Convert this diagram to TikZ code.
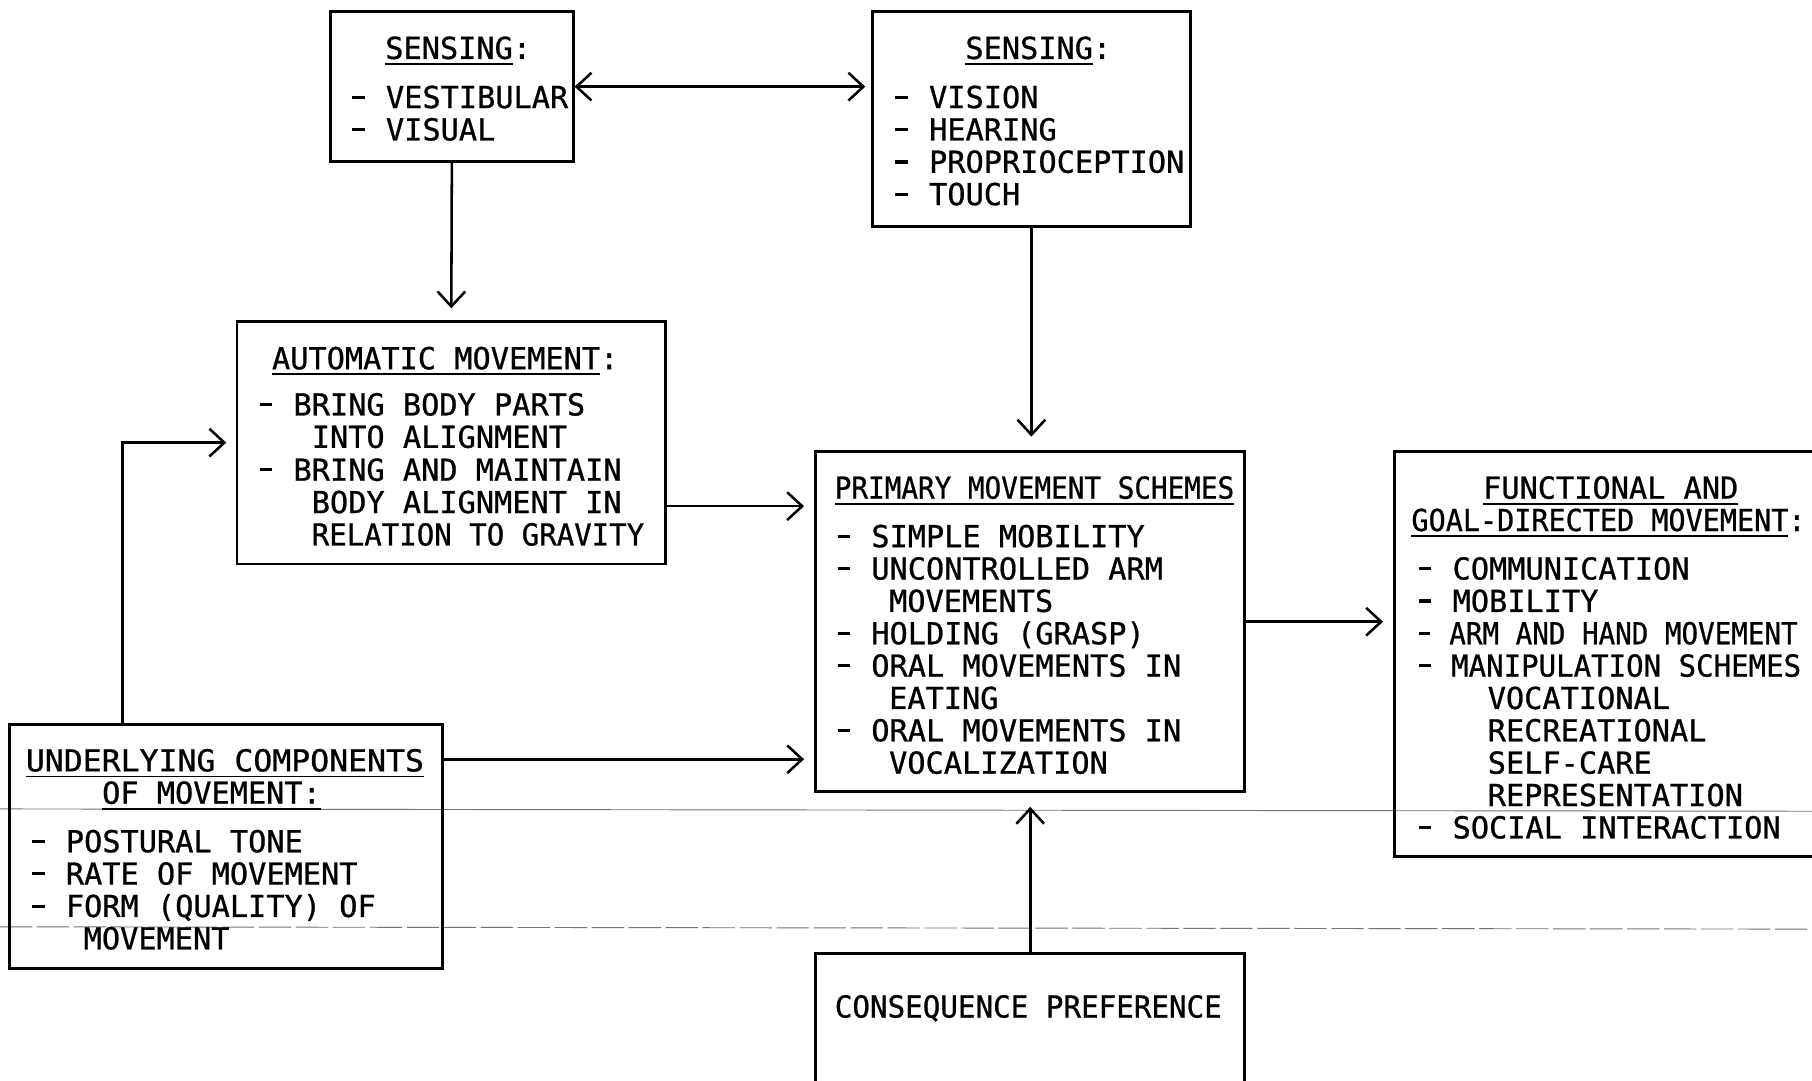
\documentclass[tikz,border=0pt]{standalone}
\usepackage{fontspec}
\usepackage{graphicx}
\newfontfamily\tw[FakeBold=0.8]{DejaVu Sans Mono}
\usetikzlibrary{arrows.meta}

% underline a word a little below the baseline
\newcommand\ulx[1]{\setbox0\hbox{#1}\rlap{\rule[-2.6pt]{\wd0}{0.8pt}}\box0}
% list dash occupying two character cells
\newcommand\dsh{\makebox[15.8pt][l]{\hspace{1.2pt}\rule[4pt]{5.4pt}{1.4pt}}}
% one text line, left end of its baseline at (x,y)
\newcommand\lineat[4]{\node[txt] (#1) at (#2,#3) {#4};}

\begin{document}
\begin{tikzpicture}[x=0.5pt,y=-0.5pt,
  box/.style={draw, line width=1.2pt, inner sep=0pt, rectangle},
  txt/.style={anchor=base west, inner sep=0pt, font=\tw\fontsize{13.1pt}{14pt}\selectfont},
  tip/.tip={Straight Barb[length=6.5pt,width=12pt]},
  arr/.style={line width=1.1pt, -tip},
  darr/.style={line width=1.1pt, tip-tip},
  scanline/.style={line width=0.4pt, black!55}]
\useasboundingbox (0,0) rectangle (1568,935);
\clip (0,0) rectangle (1568,935);
\fill[white] (0,0) rectangle (1568,935);

% faint horizontal lines across the sheet
\draw[scanline] (0,700) -- (1568,702);
\draw[scanline, dash pattern=on 14pt off 2pt] (0,802) -- (1568,804);

% boxes
\node[box, minimum width=105pt, minimum height=65pt] (sens1) at (391,75) {};
\node[box, minimum width=137.5pt, minimum height=93pt] (sens2) at (892.5,103) {};
\node[box, minimum width=185.5pt, minimum height=105pt] (auto) at (390.5,383) {};
\node[box, minimum width=185.5pt, minimum height=147pt] (prim) at (891.5,538) {};
\node[box, minimum width=187.5pt, minimum height=105.5pt] (und) at (195.5,732.5) {};
\node[box, minimum width=196.5pt, minimum height=175pt] (func) at (1403.5,566) {};
\node[box, minimum width=185.5pt, minimum height=67.5pt] (cons) at (891.5,892.5) {};

% connectors
\draw[darr, shorten >=2.5pt] (sens1.east) -- (sens2.west |- sens1.east);
\draw[arr, shorten >=5pt] (sens1.south) -- (auto.north);
\draw[arr, shorten >=6pt] (sens2.south) -- (sens2.south |- prim.north);
\draw[arr, shorten >=4.5pt] ([yshift=-27.5pt]auto.east) coordinate (a2p) -- (prim.west |- a2p);
\draw[arr, shorten >=4.5pt] ([yshift=37.75pt]und.east) coordinate (u2p) -- (prim.west |- u2p);
\draw[arr, shorten >=4pt] ([xshift=-44.75pt]und.north) |- (auto.west);
\draw[arr, shorten >=4.5pt] (prim.east) -- (func.west |- prim.east);
\draw[arr, shorten >=6pt] (cons.north) -- (prim.south);

% SENSING (vestibular / visual)
\lineat{s1t}{333}{51}{\ulx{SENSING}:}
\lineat{s1a}{302}{93.5}{\dsh VESTIBULAR}
\lineat{s1b}{302}{121.5}{\dsh VISUAL}

% SENSING (senses)
\lineat{s2t}{835}{51}{\ulx{SENSING}:}
\lineat{s2a}{772}{93.5}{\dsh VISION}
\lineat{s2b}{772}{121.5}{\dsh HEARING}
\lineat{s2c}{772}{149.5}{\dsh PROPRIOCEPTION}
\lineat{s2d}{772}{177.5}{\dsh TOUCH}

% AUTOMATIC MOVEMENT
\lineat{a0}{235}{319.5}{\ulx{AUTOMATIC MOVEMENT}:}
\lineat{a1}{222}{359.5}{\dsh BRING BODY PARTS}
\lineat{a2}{269.4}{387.5}{INTO ALIGNMENT}
\lineat{a3}{222}{416}{\dsh BRING AND MAINTAIN}
\lineat{a4}{269.4}{444}{BODY ALIGNMENT IN}
\lineat{a5}{269.4}{472}{\scalebox{0.96}[1]{RELATION TO GRAVITY}}

% PRIMARY MOVEMENT SCHEMES
\lineat{p0}{722}{431.5}{\scalebox{0.913}[1]{\ulx{PRIMARY MOVEMENT SCHEMES}}}
\lineat{p1}{722}{473.5}{\dsh SIMPLE MOBILITY}
\lineat{p2}{722}{501.5}{\dsh UNCONTROLLED ARM}
\lineat{p3}{769}{529.5}{MOVEMENTS}
\lineat{p4}{722}{557.5}{\dsh HOLDING (GRASP)}
\lineat{p5}{722}{585.5}{\dsh ORAL MOVEMENTS IN}
\lineat{p6}{769}{613.5}{EATING}
\lineat{p7}{722}{641.5}{\dsh ORAL MOVEMENTS IN}
\lineat{p8}{769}{669.5}{VOCALIZATION}

% UNDERLYING COMPONENTS
\lineat{u0}{22}{667.5}{\scalebox{1.04}[1]{\ulx{UNDERLYING COMPONENTS}}}
\lineat{u1}{88}{695.5}{\ulx{OF MOVEMENT:}}
\lineat{u2}{25}{737.5}{\dsh POSTURAL TONE}
\lineat{u3}{25}{765.5}{\dsh RATE OF MOVEMENT}
\lineat{u4}{25}{793.5}{\dsh FORM (QUALITY) OF}
\lineat{u5}{72}{821.5}{MOVEMENT}

% FUNCTIONAL AND GOAL-DIRECTED MOVEMENT
\lineat{f0}{1283}{431.5}{\ulx{FUNCTIONAL AND}}
\lineat{f1}{1221}{459.5}{\scalebox{0.94}[1]{\ulx{GOAL-DIRECTED MOVEMENT}:}}
\lineat{f2}{1225}{501.5}{\dsh COMMUNICATION}
\lineat{f3}{1225}{529.5}{\dsh MOBILITY}
\lineat{f4}{1225}{557.5}{\scalebox{0.91}[1]{\dsh ARM AND HAND MOVEMENT}}
\lineat{f5}{1225}{585.5}{\scalebox{0.96}[1]{\dsh MANIPULATION SCHEMES}}
\lineat{f6}{1287}{613.5}{VOCATIONAL}
\lineat{f7}{1287}{641.5}{RECREATIONAL}
\lineat{f8}{1287}{669.5}{SELF-CARE}
\lineat{f9}{1287}{697.5}{REPRESENTATION}
\lineat{f10}{1225}{725.5}{\dsh SOCIAL INTERACTION}

% CONSEQUENCE PREFERENCE
\lineat{c0}{722}{880.5}{\scalebox{0.965}[1]{CONSEQUENCE PREFERENCE}}
\end{tikzpicture}
\end{document}
